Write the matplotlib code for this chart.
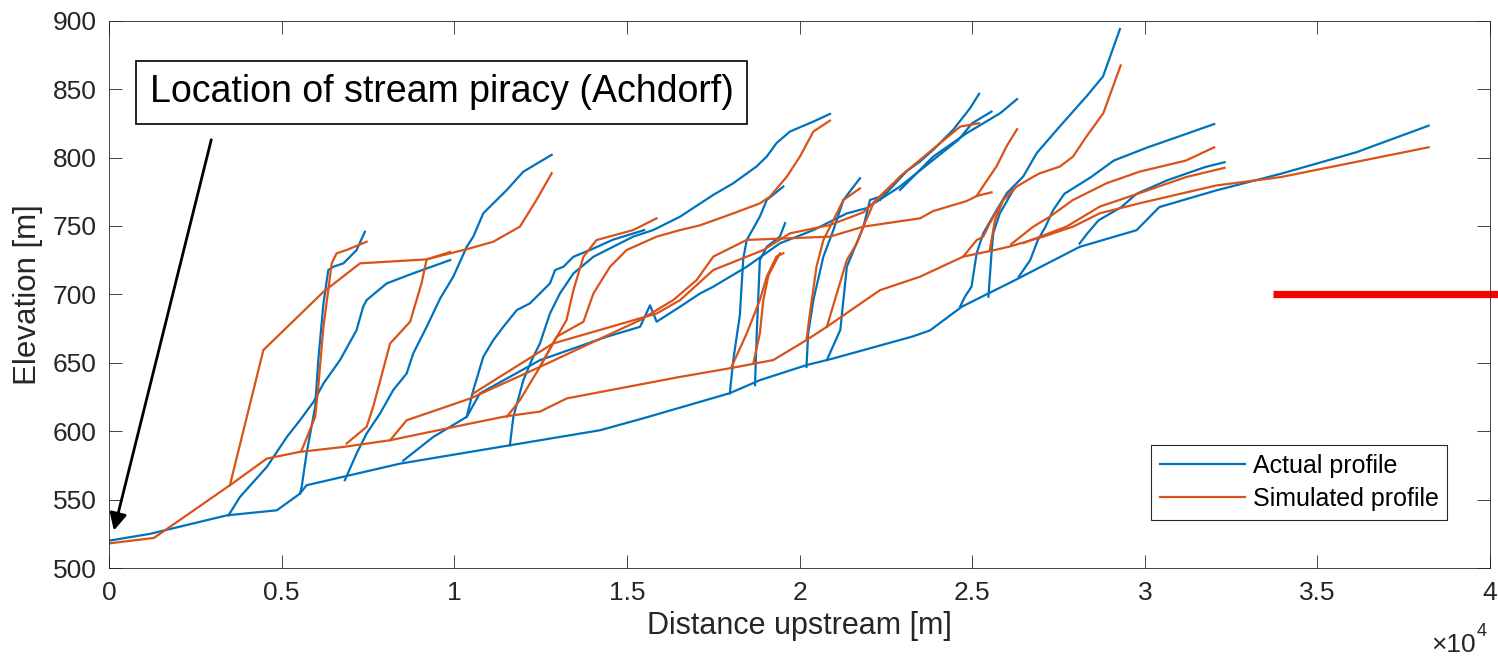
import matplotlib.pyplot as plt

plt.rcParams['font.family'] = ['Liberation Sans', 'DejaVu Sans']

# Actual (measured) river profiles: (distance upstream [m], elevation [m])
act_trunk = [(0, 520), (1190, 525), (3410, 538.5), (4860, 542.2), (5530, 554.4), (5720, 560.5),
             (8430, 576.3), (11320, 588.5), (14220, 600.7), (15470, 609.4), (17980, 627.8),
             (18850, 637.3), (20200, 648.3), (20980, 653.2), (23270, 669.2), (23780, 673.7),
             (24700, 691), (25470, 700.7), (26240, 710.4), (28110, 734.7), (29760, 746.9),
             (30420, 763.8), (32070, 776), (33930, 788.1), (36130, 803.9), (38220, 823.3)]
act_1 = [(5530, 554.4), (5580, 559.3), (5720, 583.7), (5970, 617.8), (6060, 652),
         (6210, 693.4), (6350, 717.8), (6500, 720.2), (6790, 722.7), (7170, 732.4), (7410, 745.8)]
act_2 = [(3460, 538.5), (3790, 551.9), (4570, 573.9), (5150, 595.8), (5530, 608), (5920, 621.4),
         (6210, 634.9), (6690, 652), (7170, 673.9), (7360, 691), (7460, 695.8), (8040, 708),
         (8810, 715.4), (9880, 725.1)]
act_3 = [(6830, 564.2), (7170, 583.7), (7460, 598.3), (7850, 613), (8230, 630), (8620, 642.2),
         (8810, 656.8), (9200, 676.3), (9590, 697), (9970, 712.9), (10360, 734.8), (10550, 742.2),
         (10840, 759.3), (11520, 776.3), (12000, 789.7), (12820, 802)]
act_4 = [(8520, 578.5), (9390, 595.8), (10360, 610.5), (10550, 630), (10840, 654.4), (11130, 666.6),
         (11420, 676.3), (11810, 688.5), (12190, 693.4), (12770, 708), (12920, 717.8), (13160, 720.2),
         (13450, 727.5), (13930, 732.4), (14600, 740), (15500, 747)]
act_5 = [(11610, 589.7), (11710, 610.5), (12000, 637.3), (12240, 651.9), (12480, 664.1), (12770, 686),
         (13060, 700.7), (13450, 715.3), (14030, 727.5), (14600, 734.8), (15180, 742.2), (15760, 747),
         (16540, 756.8), (17500, 772.7), (18080, 781.2), (18750, 793.4), (19050, 800.7), (19330, 810.5),
         (19720, 819), (20400, 826.3), (20880, 831.9)]
act_6 = [(10360, 610.5), (10740, 627.6), (12480, 651.9), (14410, 669), (15380, 676.3), (15670, 692),
         (15860, 680), (16540, 691), (17120, 700.7), (17500, 705.6), (18470, 720.2), (19430, 737.3),
         (20400, 747), (21370, 759.2), (21940, 763), (22910, 778.8), (23870, 798.3), (24600, 812.9),
         (25000, 825.1), (25560, 833.6)]
act_7 = [(22330, 769), (23100, 790), (23490, 797.1), (23870, 805.6), (24450, 820.3), (24940, 836.1),
         (25200, 846.6)]
act_8 = [(22910, 776.3), (23870, 800.7), (24840, 817.8), (25810, 832.4), (26300, 842.7)]
act_9 = [(17980, 627.6), (18080, 652), (18270, 684.8), (18370, 726.3), (18470, 739.7), (18850, 756.8),
         (19050, 769), (19530, 778.8)]
act_10 = [(18710, 633.7), (18760, 671.4), (18850, 725), (19050, 734.8), (19430, 742.2), (19580, 752)]
act_11 = [(20200, 647), (20250, 671.4), (20400, 695.8), (20690, 727.6), (20980, 747), (21270, 769),
          (21750, 784.9)]
act_12 = [(20790, 652), (21180, 674), (21270, 695.8), (21370, 720.2), (21850, 749.5), (22040, 769),
          (22330, 771.4), (23100, 790)]
act_13 = [(24650, 691), (24790, 698.3), (24980, 705.6), (25130, 730), (25320, 744.6), (25710, 761.7),
          (26000, 773.9), (26290, 781.3), (26480, 786.2), (26870, 803.3), (27540, 822.8), (28310, 844.7),
          (28790, 859.3), (29280, 893.9)]
act_14 = [(25470, 698.3), (25560, 730), (25610, 744.6), (25800, 759.2), (26190, 776.3)]
act_15 = [(26350, 712.9), (26680, 725), (26900, 739.6), (27120, 749.3), (27340, 761.4), (27670, 773.5),
          (28440, 785.7), (29100, 797.8), (30090, 807.5), (31190, 817.2), (32010, 824.5)]
act_16 = [(28110, 737.1), (28330, 744.4), (28660, 754.1), (29320, 763.8), (29760, 773.5), (30640, 783.3),
          (31740, 793), (32310, 796.6)]

# Simulated profiles
sim_trunk = [(0, 518), (1300, 522), (3500, 560.5), (4570, 580), (5530, 584.9), (6790, 588.5),
             (8140, 593.4), (10460, 605.6), (11520, 611), (12480, 614.3), (13260, 624), (16540, 639.7),
             (17980, 646), (19240, 652), (20200, 666.6), (20790, 676.3), (22330, 703.1), (23490, 712.9),
             (24740, 727.6), (25580, 732), (26090, 735), (27060, 742.2), (27920, 749.5), (28700, 759.3),
             (29850, 766.6), (32070, 779.6), (33930, 785.7), (38220, 807.5)]
sim_1 = [(5580, 586.1), (5970, 610.5), (6060, 632.4), (6210, 676.3), (6450, 722.7), (6590, 730),
         (6880, 732.4), (7460, 738.5)]
sim_2 = [(3500, 560.5), (4470, 659.3), (6210, 701.9), (7270, 722.7), (9200, 725.6), (10460, 733.7),
         (11130, 738.5), (11900, 749.5), (12380, 769), (12820, 788.5)]
sim_3 = [(6880, 591), (7460, 603.2), (7650, 617.8), (8140, 664.1), (8720, 680), (9050, 708),
         (9200, 725.6), (9880, 731)]
sim_4 = [(8140, 593.4), (8620, 608), (10460, 623.9), (12480, 647), (15380, 681.2), (16340, 695.8),
         (17020, 710.5), (17500, 727.6), (18470, 739.8), (20880, 742.2), (21850, 749.5), (23490, 755.6),
         (23870, 760.9), (24840, 768.2), (25130, 771.9), (25560, 774.6)]
sim_5 = [(25130, 771.9), (25320, 779.2), (25710, 793.8), (26000, 808.4), (26300, 820.7)]
sim_6 = [(10550, 627.6), (12860, 664.1), (15860, 686), (16540, 695.8), (17500, 717.8), (18950, 732.4),
         (19720, 744.6), (20880, 750.7), (21850, 760), (22720, 781.2)]
sim_7 = [(20790, 676.3), (21080, 700.7), (21370, 725.1), (21660, 737.3), (21850, 749.5), (22140, 766.6),
         (22720, 781.2), (22910, 786.2), (23490, 798.3), (24070, 810.5), (24650, 822.6), (25200, 825.1)]
sim_8 = [(18030, 647), (18470, 671.5), (18850, 695.8), (19050, 712.9), (19330, 727.6), (19530, 730)]
sim_9 = [(18660, 649.5), (18850, 671.4), (18950, 695.8), (19100, 714), (19430, 730)]
sim_10 = [(20200, 666.6), (20300, 686), (20490, 720.2), (20690, 739.7), (20980, 754.3), (21270, 769),
          (21750, 777.5)]
sim_11 = [(11520, 610.5), (11900, 622.7), (12480, 647), (12860, 664.1), (13250, 681.2), (13450, 703.1),
          (13740, 727.5), (14120, 739.7), (15180, 747), (15860, 755.6)]
sim_12 = [(12480, 647), (12960, 669), (13740, 680), (14030, 700.7), (14510, 720.2), (14990, 732.4),
          (15860, 742.2), (16540, 747), (17120, 750.5), (18080, 759.2), (18850, 766.5), (19140, 771.4),
          (19630, 786), (20010, 800.7), (20400, 819), (20880, 827)]
sim_13 = [(24740, 727.6), (25130, 739.7), (25320, 742.2), (25510, 752), (25900, 769), (26290, 778.8),
          (26770, 786), (26960, 788.5), (27540, 793.4), (27920, 800.7), (28310, 815.4), (28800, 832.5),
          (29300, 867.3)]
sim_14 = [(25510, 732.4), (25660, 754.3), (25900, 769), (26190, 776.3)]
sim_15 = [(26130, 736.7), (26770, 749.5), (27250, 756.8), (27920, 769), (28890, 781.2), (29850, 789.7),
          (31190, 797.8), (32010, 807.5)]
sim_16 = [(26480, 737.5), (27730, 749.5), (28700, 764.2), (29850, 774), (31190, 785.7), (32310, 792.5)]

actual = [act_trunk, act_1, act_2, act_3, act_4, act_5, act_6, act_7, act_8, act_9, act_10,
          act_11, act_12, act_13, act_14, act_15, act_16]
simulated = [sim_trunk, sim_1, sim_2, sim_3, sim_4, sim_5, sim_6, sim_7, sim_8, sim_9, sim_10,
             sim_11, sim_12, sim_13, sim_14, sim_15, sim_16]

x_ticks = [0, 5000, 10000, 15000, 20000, 25000, 30000, 35000, 40000]
x_tick_labels = ['0', '0.5', '1', '1.5', '2', '2.5', '3', '3.5', '4']
y_ticks = [500, 550, 600, 650, 700, 750, 800, 850, 900]

blue = '#0072BD'
orange = '#D95319'
grey = '#262626'

fig = plt.figure(figsize=(14.98, 6.56), dpi=100)
ax = fig.add_axes([0.0728, 0.1341, 0.9219, 0.8343])

for k, prof in enumerate(actual):
    xs, ys = zip(*prof)
    ax.plot(xs, ys, color=blue, lw=1.6, label='Actual profile' if k == 0 else None)
for k, prof in enumerate(simulated):
    xs, ys = zip(*prof)
    ax.plot(xs, ys, color=orange, lw=1.6, label='Simulated profile' if k == 0 else None)

ax.set_xlim(0, 40000)
ax.set_ylim(500, 900)
ax.set_xticks(x_ticks)
ax.set_xticklabels(x_tick_labels)
ax.set_yticks(y_ticks)
ax.tick_params(direction='in', length=9.5, width=0.6, color=grey, labelcolor=grey,
               labelsize=19, top=True, right=True, pad=9)
for s in ax.spines.values():
    s.set_color(grey)
    s.set_linewidth(0.6)

ax.set_xlabel('Distance upstream [m]', fontsize=22, color=grey, labelpad=5)
ax.set_ylabel('Elevation [m]', fontsize=22.5, color=grey, labelpad=7)
fig.text(1476 / 1498, 1 - 652 / 656, '\u00d710', fontsize=19, color=grey, ha='right', va='baseline')
fig.text(1477 / 1498, 1 - 636 / 656, '4', fontsize=13, color=grey, ha='left', va='baseline')

leg = ax.legend(loc='lower right', bbox_to_anchor=(0.969, 0.088), borderaxespad=0,
                fontsize=18, handlelength=3.4, handletextpad=0.3, labelspacing=0.38,
                borderpad=0.35, fancybox=False, framealpha=1)
leg.get_frame().set_edgecolor(grey)
leg.get_frame().set_linewidth(0.8)

# Annotation box and arrow
ax.text(9630, 847.7, 'Location of stream piracy (Achdorf)', fontsize=27, color='black',
        ha='center', va='center',
        bbox=dict(boxstyle='square,pad=0.36', facecolor='white', edgecolor='black', lw=1.2))
ax.annotate('', xy=(120, 525.4), xytext=(2980, 815),
            arrowprops=dict(arrowstyle='-|>', lw=2, color='black', mutation_scale=26))

# Red marker bar on the right edge
ax.plot([33710, 40600], [700, 700], color='red', lw=5.2, solid_capstyle='butt', clip_on=False)

fig.savefig('out.png', dpi=100)
